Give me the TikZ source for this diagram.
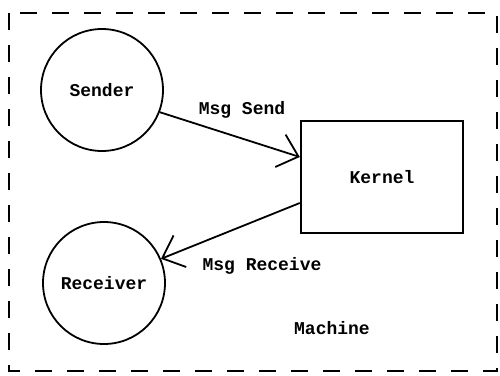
\documentclass[tikz,border=0pt]{standalone}
\usepackage{fontspec}
\setmonofont{Liberation Mono}
\usetikzlibrary{arrows.meta}
\tikzset{
  proc/.style={draw,circle,line width=1.8pt,minimum size=122pt,inner sep=0pt},
  kbox/.style={draw,rectangle,line width=2.4pt,minimum width=162pt,minimum height=112pt},
  msg/.style={line width=1.8pt,-{Straight Barb[length=19pt,width=34pt,line width=1.8pt]}},
  lbl/.style={font=\ttfamily\bfseries\fontsize{18}{21}\selectfont}
}
\begin{document}
\begin{tikzpicture}[x=1pt,y=-1pt,line cap=butt,every node/.style={lbl}]
  \useasboundingbox (0,0) rectangle (500,375);
  \draw[line width=2.6pt,dash pattern=on 17pt off 15pt] (9,13) rectangle (497,371);
  \node[proc] (snd) at (102,90) {Sender};
  \node[proc] (rcv) at (104,283) {Receiver};
  \node[kbox] (krn) at (382,177) {Kernel};
  \draw[msg] (snd.-21) -- ([yshift=20pt]krn.west);
  \draw[msg] ([yshift=-26pt]krn.west) -- (rcv.23);
  \node at (242,110) {Msg Send};
  \node at (262,266) {Msg Receive};
  \node at (332,328) {Machine};
\end{tikzpicture}
\end{document}
